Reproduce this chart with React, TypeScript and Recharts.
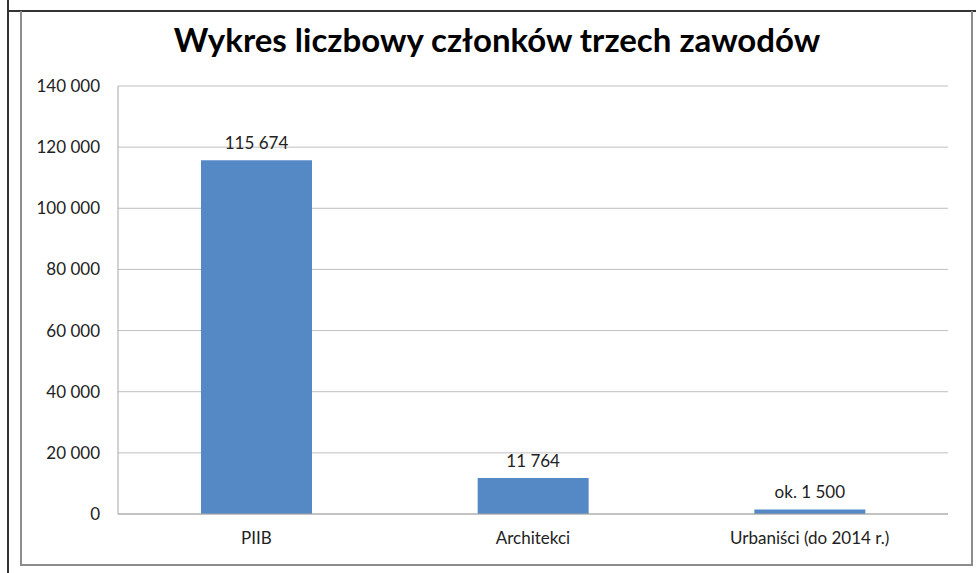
import { BarChart, Bar, XAxis, YAxis, CartesianGrid, LabelList } from "recharts";

const categories = ["PIIB", "Architekci", "Urbaniści (do 2014 r.)"];
const members = [115674, 11764, 1500];
const valueLabels = ["115 674", "11 764", "ok. 1 500"];
const yTicks = [0, 20000, 40000, 60000, 80000, 100000, 120000, 140000];

const data = categories.map((name, i) => ({
  name,
  value: members[i],
  label: valueLabels[i],
}));

const FONT = "Lato, 'Open Sans', sans-serif";
const fmt = (v: number) => v.toLocaleString("en-US").replace(/,/g, " ");

export default function App() {
  return (
    <div style={{ position: "absolute", left: 0, top: 0, width: 976, height: 573, background: "#fff", fontFamily: FONT }}>
      {/* page edge lines */}
      <div style={{ position: "absolute", left: 7, top: 0, width: 2, height: 573, background: "#333" }} />
      <div style={{ position: "absolute", left: 7, top: 10, width: 969, height: 2, background: "#333" }} />
      {/* chart frame */}
      <div style={{ position: "absolute", left: 20, top: 11, width: 949, height: 553, border: "2px solid #8c8c8c", borderTop: "none" }} />
      <div
        style={{
          position: "absolute",
          left: 0,
          width: 994,
          top: 19,
          textAlign: "center",
          fontSize: 33,
          fontWeight: 700,
          color: "#000",
        }}
      >
        Wykres liczbowy członków trzech zawodów
      </div>
      <div style={{ position: "absolute", left: 0, top: 0 }}>
        <BarChart
          width={976}
          height={573}
          data={data}
          margin={{ top: 86, right: 28, bottom: 29, left: 0 }}
          barCategoryGap="30%"
        >
          <CartesianGrid vertical={false} stroke="#bfbfbf" strokeWidth={1} />
          <XAxis
            dataKey="name"
            axisLine={{ stroke: "#a6a6a6" }}
            tickLine={false}
            tickSize={0}
            tickMargin={18}
            tick={{ fill: "#222", fontSize: 17, fontFamily: FONT }}
          />
          <YAxis
            width={118}
            domain={[0, 140000]}
            ticks={yTicks}
            tickFormatter={fmt}
            axisLine={{ stroke: "#a6a6a6" }}
            tickLine={false}
            tickSize={0}
            tickMargin={18}
            tick={{ fill: "#222", fontSize: 17, fontFamily: FONT }}
          />
          <Bar dataKey="value" fill="#5589c6" isAnimationActive={false}>
            <LabelList dataKey="label" position="top" offset={11} fill="#222" fontSize={17} fontFamily={FONT} />
          </Bar>
        </BarChart>
      </div>
    </div>
  );
}
